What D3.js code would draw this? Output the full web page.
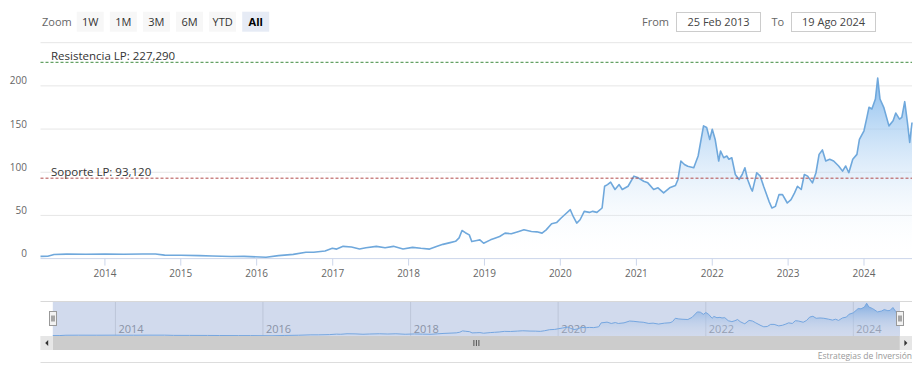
<!DOCTYPE html>
<html>
<head>
<meta charset="utf-8">
<script src="https://cdn.jsdelivr.net/npm/d3@7"></script>
<style>
    html, body { margin: 0; padding: 0; background: #fff; }
    body { width: 920px; height: 374px; overflow: hidden; font-family: "Open Sans", sans-serif; }
    svg text { font-family: "Open Sans", sans-serif; }
</style>
</head>
<body>
<div id="chart"></div>
<script>
// ---------------------------------------------------------------------------
// Data
// ---------------------------------------------------------------------------

const priceDates = [
    "2013-02-25", "2013-04-01", "2013-05-01", "2013-07-01", "2013-10-01", "2014-01-02",
    "2014-04-01", "2014-07-01", "2014-09-01", "2014-10-15", "2015-01-02", "2015-04-01",
    "2015-06-01", "2015-09-01", "2015-11-01", "2016-02-15", "2016-04-15", "2016-06-25",
    "2016-08-25", "2016-10-01", "2016-11-25", "2016-12-30", "2017-01-20", "2017-02-20",
    "2017-04-01", "2017-05-10", "2017-06-10", "2017-07-30", "2017-09-10", "2017-10-20",
    "2017-12-05", "2018-01-20", "2018-03-01", "2018-04-12", "2018-05-15", "2018-06-15",
    "2018-07-20", "2018-08-15", "2018-09-01", "2018-09-15", "2018-10-01", "2018-10-20",
    "2018-11-01", "2018-11-25", "2018-12-10", "2018-12-28", "2019-01-30", "2019-02-20",
    "2019-03-15", "2019-04-10", "2019-05-10", "2019-06-15", "2019-07-10", "2019-08-15",
    "2019-09-10", "2019-10-05", "2019-10-25", "2019-11-20", "2019-12-15", "2020-01-05",
    "2020-01-22", "2020-02-18", "2020-03-03", "2020-03-20", "2020-04-05", "2020-04-25",
    "2020-05-20", "2020-06-05", "2020-06-25", "2020-07-20", "2020-08-01", "2020-08-15",
    "2020-08-30", "2020-09-20", "2020-10-10", "2020-10-25", "2020-11-22", "2020-12-20",
    "2021-01-10", "2021-02-05", "2021-02-25", "2021-03-25", "2021-04-15", "2021-05-12",
    "2021-06-10", "2021-07-08", "2021-07-20", "2021-08-03", "2021-08-20", "2021-09-05",
    "2021-10-04", "2021-10-25", "2021-11-20", "2021-12-05", "2021-12-20", "2022-01-01",
    "2022-01-15", "2022-02-01", "2022-02-10", "2022-02-25", "2022-03-12", "2022-03-22",
    "2022-04-05", "2022-04-22", "2022-05-10", "2022-05-25", "2022-06-07", "2022-06-20",
    "2022-07-05", "2022-07-13", "2022-08-03", "2022-08-20", "2022-09-05", "2022-10-01",
    "2022-10-15", "2022-11-01", "2022-11-18", "2022-12-05", "2022-12-28", "2023-01-15",
    "2023-02-01", "2023-02-15", "2023-03-05", "2023-03-20", "2023-04-05", "2023-04-28",
    "2023-05-15", "2023-05-30", "2023-06-15", "2023-07-01", "2023-07-20", "2023-08-08",
    "2023-09-01", "2023-09-20", "2023-10-05", "2023-10-20", "2023-11-08", "2023-11-28",
    "2023-12-10", "2024-01-01", "2024-01-15", "2024-01-25", "2024-02-08", "2024-02-25",
    "2024-03-07", "2024-03-18", "2024-04-05", "2024-04-30", "2024-05-20", "2024-06-02",
    "2024-06-20", "2024-07-01", "2024-07-15", "2024-07-28", "2024-08-08", "2024-08-19"
];

const priceValues = [
    2.6, 2.8, 4.8, 5.2, 5.0, 5.3,
    5.0, 5.4, 5.4, 4.0, 3.8, 3.5,
    3.0, 2.5, 2.6, 1.5, 3.4, 4.9,
    7.3, 7.3, 8.8, 11.9, 11.0, 14.2,
    13.5, 11.1, 12.6, 14.2, 12.6, 14.2,
    11.1, 13.0, 11.9, 11.0, 13.9, 16.5,
    18.5, 20.0, 24.0, 32.5, 30.0, 27.5,
    19.7, 20.9, 21.7, 17.8, 21.7, 23.6,
    25.6, 29.5, 28.7, 31.4, 33.3, 31.4,
    31.0, 29.5, 33.3, 40.3, 41.9, 47.0,
    50.8, 56.6, 48.8, 41.1, 45.0, 54.7,
    53.5, 54.7, 53.5, 58.6, 83.8, 85.7,
    88.5, 80.0, 85.7, 80.0, 83.8, 95.5,
    93.5, 89.6, 87.7, 80.0, 82.0, 76.1,
    82.0, 84.6, 91.6, 113.0, 109.0, 107.0,
    105.2, 118.8, 153.7, 151.8, 138.0, 149.8,
    138.0, 113.0, 124.6, 116.8, 118.8, 115.0,
    116.8, 97.4, 91.6, 97.4, 105.2, 91.6,
    82.0, 78.1, 99.4, 95.5, 83.8, 66.3,
    58.6, 60.5, 74.1, 74.1, 64.4, 68.3,
    76.1, 83.8, 80.0, 97.4, 95.5, 87.7,
    99.4, 120.7, 125.8, 113.0, 115.0, 113.0,
    107.2, 101.3, 107.2, 99.4, 115.0, 120.7,
    138.0, 148.0, 163.5, 175.2, 173.2, 184.8,
    209.0, 184.8, 175.2, 153.7, 159.5, 168.5,
    161.5, 163.5, 181.7, 157.6, 134.4, 157.6
];

const yTicks = [0, 50, 100, 150, 200, 250];
const xTickYears = [2014, 2015, 2016, 2017, 2018, 2019, 2020, 2021, 2022, 2023, 2024];
const navTickYears = [2014, 2016, 2018, 2020, 2022, 2024];

const levelValues = [227.29, 93.12];
const levelLabels = ["Resistencia LP: 227,290", "Soporte LP: 93,120"];
const levelColors = ["#3f8a3f", "#b24a4a"];

const zoomButtons = ["1W", "1M", "3M", "6M", "YTD", "All"];
const rangeFrom = "25 Feb 2013";
const rangeTo = "19 Ago 2024";
const creditText = "Estrategias de Inversión";

const data = priceDates.map((d, i) => ({ date: new Date(d + "T00:00:00"), value: priceValues[i] }));
const startDate = data[0].date;
const endDate = data[data.length - 1].date;

// ---------------------------------------------------------------------------
// Setup
// ---------------------------------------------------------------------------

const width = 920, height = 374;
const plot = { left: 40.5, right: 912, top: 42.7, bottom: 258.6 };
const nav = { left: 52.8, right: 900, top: 301.5, bottom: 336 };

const svg = d3.select("#chart").append("svg")
    .attr("width", width)
    .attr("height", height);

const x = d3.scaleTime().domain([startDate, endDate]).range([plot.left, plot.right]);
const y = d3.scaleLinear().domain([0, 250]).range([plot.bottom, plot.top]);

const defs = svg.append("defs");
const grad = defs.append("linearGradient")
    .attr("id", "areaGrad")
    .attr("gradientUnits", "userSpaceOnUse")
    .attr("x1", 0).attr("x2", 0)
    .attr("y1", y(d3.max(priceValues))).attr("y2", y(0));
grad.append("stop").attr("offset", 0).attr("stop-color", "#7cb5ec").attr("stop-opacity", 0.9);
grad.append("stop").attr("offset", 1).attr("stop-color", "#ffffff").attr("stop-opacity", 0.0);

// ---------------------------------------------------------------------------
// Range selector (top bar)
// ---------------------------------------------------------------------------

svg.append("text")
    .attr("x", 42).attr("y", 25.5)
    .attr("font-size", "11px").attr("fill", "#666")
    .text("Zoom");

const btn = svg.selectAll("g.btn")
    .data(zoomButtons)
    .join("g")
    .attr("class", "btn")
    .attr("transform", (d, i) => `translate(${76.7 + i * 33.1},11.7)`);

btn.append("rect")
    .attr("width", 27).attr("height", 20)
    .attr("fill", d => d === "All" ? "#e6ebf5" : "#f7f7f7");

btn.append("text")
    .attr("x", 13.5).attr("y", 14)
    .attr("text-anchor", "middle")
    .attr("font-size", "11px")
    .attr("font-weight", d => d === "All" ? "bold" : "normal")
    .attr("fill", d => d === "All" ? "#000" : "#333")
    .text(d => d);

const inputs = [
    { label: "From", lx: 642, bx: 676.5, text: rangeFrom },
    { label: "To", lx: 771.5, bx: 791.5, text: rangeTo }
];

inputs.forEach(inp => {
    svg.append("text")
        .attr("x", inp.lx).attr("y", 25.5)
        .attr("font-size", "11px").attr("fill", "#666")
        .text(inp.label);
    svg.append("rect")
        .attr("x", inp.bx).attr("y", 12.5)
        .attr("width", 84).attr("height", 19)
        .attr("fill", "#fff").attr("stroke", "#ccc");
    svg.append("text")
        .attr("x", inp.bx + 42).attr("y", 25.5)
        .attr("text-anchor", "middle")
        .attr("font-size", "11px").attr("fill", "#444")
        .text(inp.text);
});

// ---------------------------------------------------------------------------
// Main chart — grid, axes
// ---------------------------------------------------------------------------

svg.append("g")
    .selectAll("line")
    .data(yTicks)
    .join("line")
    .attr("x1", plot.left).attr("x2", plot.right)
    .attr("y1", d => y(d)).attr("y2", d => y(d))
    .attr("stroke", d => d === 0 ? "#ccd6eb" : "#e6e6e6")
    .attr("stroke-width", 1);

// last label hidden like Highstock's showLastLabel: false
svg.append("g")
    .selectAll("text")
    .data(yTicks.slice(0, -1))
    .join("text")
    .attr("x", 27).attr("y", d => y(d) - 1.5)
    .attr("text-anchor", "end")
    .attr("font-size", "10px").attr("fill", "#666")
    .text(d => d);

const xTicks = xTickYears.map(yr => new Date(yr, 0, 1));

svg.append("g")
    .selectAll("line")
    .data(xTicks)
    .join("line")
    .attr("x1", d => x(d)).attr("x2", d => x(d))
    .attr("y1", plot.bottom).attr("y2", plot.bottom + 7)
    .attr("stroke", "#ccd6eb");

svg.append("g")
    .selectAll("text")
    .data(xTicks)
    .join("text")
    .attr("x", d => x(d)).attr("y", 276.5)
    .attr("text-anchor", "middle")
    .attr("font-size", "10px").attr("fill", "#666")
    .text(d3.timeFormat("%Y"));

// ---------------------------------------------------------------------------
// Main chart — series
// ---------------------------------------------------------------------------

const area = d3.area()
    .x(d => x(d.date))
    .y0(y(0))
    .y1(d => y(d.value));

const line = d3.line()
    .x(d => x(d.date))
    .y(d => y(d.value));

svg.append("path")
    .datum(data)
    .attr("d", area)
    .attr("fill", "url(#areaGrad)");

svg.append("path")
    .datum(data)
    .attr("d", line)
    .attr("fill", "none")
    .attr("stroke", "#6fa8dc")
    .attr("stroke-width", 1.6)
    .attr("stroke-linejoin", "round");

// support / resistance plot lines
levelValues.forEach((v, i) => {
    svg.append("line")
        .attr("x1", plot.left).attr("x2", plot.right)
        .attr("y1", y(v)).attr("y2", y(v))
        .attr("stroke", levelColors[i])
        .attr("stroke-width", 1)
        .attr("stroke-dasharray", "3,2");
    svg.append("text")
        .attr("x", 51).attr("y", y(v) - 2.5)
        .attr("font-size", "11.5px").attr("fill", "#333")
        .text(levelLabels[i]);
});

// ---------------------------------------------------------------------------
// Navigator
// ---------------------------------------------------------------------------

const nx = d3.scaleTime().domain([startDate, endDate]).range([nav.left, nav.right]);
const ny = d3.scaleLinear().domain([0, 220]).range([nav.bottom, nav.top]);

const navGrad = defs.append("linearGradient")
    .attr("id", "navGrad")
    .attr("gradientUnits", "userSpaceOnUse")
    .attr("x1", 0).attr("x2", 0)
    .attr("y1", ny(d3.max(priceValues))).attr("y2", ny(0));
navGrad.append("stop").attr("offset", 0).attr("stop-color", "#7cb5ec").attr("stop-opacity", 0.9);
navGrad.append("stop").attr("offset", 1).attr("stop-color", "#ffffff").attr("stop-opacity", 0.1);

const navTicks = navTickYears.map(yr => new Date(yr, 0, 1));

svg.append("g")
    .selectAll("line")
    .data(navTicks)
    .join("line")
    .attr("x1", d => nx(d)).attr("x2", d => nx(d))
    .attr("y1", nav.top).attr("y2", nav.bottom)
    .attr("stroke", "#e2e2e2");

svg.append("g")
    .selectAll("text")
    .data(navTicks)
    .join("text")
    .attr("x", d => nx(d) + 3).attr("y", 333)
    .attr("font-size", "11px").attr("fill", "#999")
    .text(d3.timeFormat("%Y"));

svg.append("path")
    .datum(data)
    .attr("d", d3.area().x(d => nx(d.date)).y0(nav.bottom).y1(d => ny(d.value)))
    .attr("fill", "url(#navGrad)");

svg.append("path")
    .datum(data)
    .attr("d", d3.line().x(d => nx(d.date)).y(d => ny(d.value)))
    .attr("fill", "none")
    .attr("stroke", "#7cb5ec")
    .attr("stroke-width", 1);

// selected range mask
svg.append("rect")
    .attr("x", nav.left).attr("y", nav.top)
    .attr("width", nav.right - nav.left).attr("height", nav.bottom - nav.top)
    .attr("fill", "rgba(102,133,194,0.3)");

svg.append("line")
    .attr("x1", plot.left).attr("x2", plot.right)
    .attr("y1", nav.top).attr("y2", nav.top)
    .attr("stroke", "#d8d8d8");

// handles
[nav.left, nav.right].forEach(hx => {
    const g = svg.append("g").attr("transform", `translate(${Math.round(hx) - 3.5},311.5)`);
    g.append("rect")
        .attr("width", 7).attr("height", 14)
        .attr("fill", "#f2f2f2").attr("stroke", "#999");
    g.append("path")
        .attr("d", "M2.5,4V10M4.5,4V10")
        .attr("stroke", "#333").attr("stroke-width", 0.8);
});

// scrollbar
const sb = { top: 336, h: 14 };
svg.append("rect")
    .attr("x", plot.left).attr("y", sb.top)
    .attr("width", plot.right - plot.left).attr("height", sb.h)
    .attr("fill", "#f2f2f2");
svg.append("rect")
    .attr("x", nav.left).attr("y", sb.top)
    .attr("width", nav.right - nav.left).attr("height", sb.h)
    .attr("fill", "#cccccc");
[[plot.left, -1], [plot.right - 12.3, 1]].forEach(([bx, dir]) => {
    svg.append("rect")
        .attr("x", bx).attr("y", sb.top)
        .attr("width", 12.3).attr("height", sb.h)
        .attr("fill", "#e6e6e6");
    const cx = bx + 6.2, cy = sb.top + sb.h / 2;
    svg.append("path")
        .attr("d", `M${cx - 1.5 * dir},${cy - 3}L${cx + 1.5 * dir},${cy}L${cx - 1.5 * dir},${cy + 3}Z`)
        .attr("fill", "#333");
});
const gx = (nav.left + nav.right) / 2;
svg.append("path")
    .attr("d", `M${gx - 2.5},${sb.top + 4}V${sb.top + 10}M${gx},${sb.top + 4}V${sb.top + 10}M${gx + 2.5},${sb.top + 4}V${sb.top + 10}`)
    .attr("stroke", "#333").attr("stroke-width", 0.8);

// ---------------------------------------------------------------------------
// Credits / bottom border
// ---------------------------------------------------------------------------

svg.append("text")
    .attr("x", plot.right).attr("y", 358.5)
    .attr("text-anchor", "end")
    .attr("font-size", "8.5px").attr("fill", "#999")
    .text(creditText);

svg.append("line")
    .attr("x1", plot.left).attr("x2", plot.right)
    .attr("y1", 362.5).attr("y2", 362.5)
    .attr("stroke", "#ddd");
</script>
</body>
</html>
